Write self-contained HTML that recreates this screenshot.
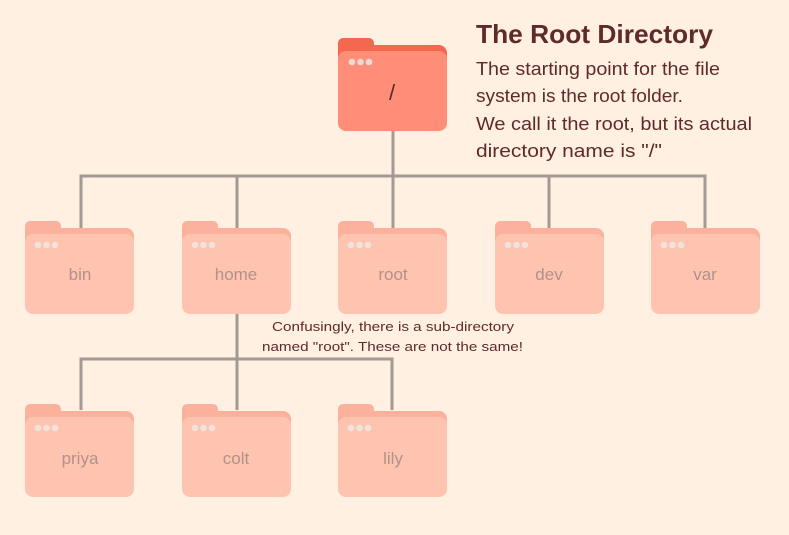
<!DOCTYPE html>
<html><head><meta charset="utf-8"><style>
html,body{margin:0;padding:0;background:#fff0e2;}
svg{display:block;}
text{font-family:"Liberation Sans",sans-serif;}
</style></head><body>
<svg width="789" height="535" viewBox="0 0 789 535" xmlns="http://www.w3.org/2000/svg">
<rect width="789" height="535" fill="#fff0e2"/>
<defs>
<g id="sf">
  <rect x="0" y="0" width="36" height="20" rx="5" fill="#fbb19c"/>
  <rect x="0" y="7" width="109" height="40" rx="8" fill="#fbb19c"/>
  <rect x="0" y="13" width="109" height="80" rx="8" fill="#ffc4b0"/>
  <circle cx="13" cy="24" r="3.3" fill="#f0e2dc"/>
  <circle cx="21.5" cy="24" r="3.3" fill="#f0e2dc"/>
  <circle cx="30" cy="24" r="3.3" fill="#f0e2dc"/>
</g>
</defs>
<g stroke="#a39a94" stroke-width="3" fill="none">
  <path d="M393 130 V230 M81 228 V176 H705 V228 M237 176 V228 M549 176 V228"/>
  <path d="M237 314 V410 M81 410 V359 H392 V410"/>
</g>
<!-- root folder -->
<rect x="338" y="38" width="36" height="20" rx="5" fill="#f3684f"/>
<rect x="338" y="45" width="109" height="40" rx="8" fill="#f3684f"/>
<rect x="338" y="51" width="109" height="80" rx="8" fill="#ff8e78"/>
<circle cx="352" cy="62" r="3.3" fill="#eedad4"/>
<circle cx="360.5" cy="62" r="3.3" fill="#eedad4"/>
<circle cx="369" cy="62" r="3.3" fill="#eedad4"/>
<text x="392" y="100" font-size="22" fill="#5a2a28" text-anchor="middle">/</text>

<g fill="#b0918b" font-size="17" text-anchor="middle">
<use href="#sf" x="25" y="221"/><text x="80" y="280">bin</text>
<use href="#sf" x="182" y="221"/><text x="236" y="280">home</text>
<use href="#sf" x="338" y="221"/><text x="393" y="280">root</text>
<use href="#sf" x="495" y="221"/><text x="549" y="280">dev</text>
<use href="#sf" x="651" y="221"/><text x="705" y="280">var</text>
<use href="#sf" x="25" y="404"/><text x="80" y="464">priya</text>
<use href="#sf" x="182" y="404"/><text x="236" y="464">colt</text>
<use href="#sf" x="338" y="404"/><text x="393" y="464">lily</text>
</g>

<g fill="#5e2a2a">
<text x="476" y="43" font-size="26" font-weight="bold" textLength="237" lengthAdjust="spacingAndGlyphs">The Root Directory</text>
<text x="476" y="75" font-size="18" textLength="244" lengthAdjust="spacingAndGlyphs">The starting point for the file</text>
<text x="476" y="102" font-size="18" textLength="207" lengthAdjust="spacingAndGlyphs">system is the root folder.</text>
<text x="476" y="130" font-size="18" textLength="276" lengthAdjust="spacingAndGlyphs">We call it the root, but its actual</text>
<text x="476" y="157" font-size="18" textLength="186" lengthAdjust="spacingAndGlyphs">directory name is "/"</text>
<text x="272" y="331" font-size="13" textLength="242" lengthAdjust="spacingAndGlyphs">Confusingly, there is a sub-directory</text>
<text x="262" y="351" font-size="13" textLength="261" lengthAdjust="spacingAndGlyphs">named "root".  These are not the same!</text>
</g>
</svg>
</body></html>
